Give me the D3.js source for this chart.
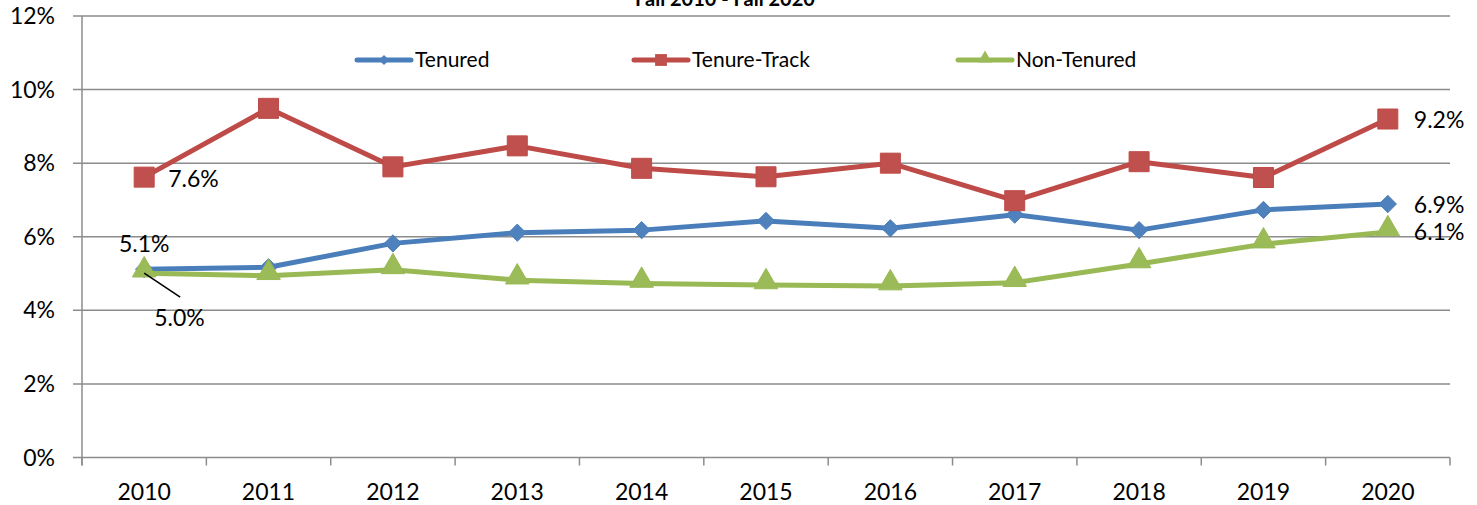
<!doctype html>
<meta charset="utf-8">
<script src="https://cdnjs.cloudflare.com/ajax/libs/d3/7.8.5/d3.min.js"></script>
<style>
  body {margin: 0; background: #fff;}
  svg text {font-family: Lato, "Open Sans", sans-serif; fill: #000;}
</style>
<body>
<svg width="1477" height="505"></svg>
<script>
const years = ["2010","2011","2012","2013","2014","2015","2016","2017","2018","2019","2020"];
const tenured     = [5.12, 5.17, 5.82, 6.11, 6.18, 6.43, 6.23, 6.60, 6.18, 6.73, 6.89];
const tenureTrack = [7.62, 9.49, 7.90, 8.47, 7.86, 7.63, 8.00, 6.98, 8.04, 7.61, 9.20];
const nonTenured  = [5.01, 4.94, 5.10, 4.82, 4.73, 4.69, 4.66, 4.75, 5.26, 5.80, 6.13];
const yTicks = [0, 2, 4, 6, 8, 10, 12];
const seriesNames = ["Tenured", "Tenure-Track", "Non-Tenured"];
const title = "Fall 2010 - Fall 2020";

const svg = d3.select("svg");
const plotL = 82, plotR = 1450, plotT = 16, plotB = 457.5;

const x = d3.scaleBand().domain(years).range([plotL, plotR]);
const cx = d => x(d) + x.bandwidth() / 2;
const y = d3.scaleLinear().domain([0, 12]).range([plotB, plotT]);

// gridlines + y labels
svg.append("g").selectAll("line").data(yTicks).enter().append("line")
  .attr("x1", plotL - 9).attr("x2", plotR)
  .attr("y1", d => y(d)).attr("y2", d => y(d))
  .attr("stroke", "#8c8c8c").attr("stroke-width", 1.5);
svg.append("g").selectAll("text").data(yTicks).enter().append("text")
  .attr("x", 55).attr("y", d => y(d) + 8)
  .attr("text-anchor", "end").style("font-size", "23px")
  .text(d => d + "%");

// axes lines
svg.append("line").attr("x1", plotL).attr("x2", plotL).attr("y1", plotT).attr("y2", plotB + 8)
  .attr("stroke", "#8c8c8c").attr("stroke-width", 1.5);
const tickXs = years.map(d => x(d)).concat([plotR]);
svg.append("g").selectAll("line").data(tickXs).enter().append("line")
  .attr("x1", d => d).attr("x2", d => d).attr("y1", plotB).attr("y2", plotB + 8)
  .attr("stroke", "#8c8c8c").attr("stroke-width", 1.5);
svg.append("g").selectAll("text").data(years).enter().append("text")
  .attr("x", cx).attr("y", 500).attr("text-anchor", "middle")
  .style("font-size", "23px").text(d => d);

// title (clipped at top, as in the original)
svg.append("text").attr("x", 725).attr("y", 6).attr("text-anchor", "middle")
  .style("font-size", "20px").style("font-weight", "bold").text(title);

const colors = ["#4a7ebb", "#be4b48", "#98b954"];
const fills  = ["#4f81bd", "#c0504d", "#9bbb59"];
const allSeries = [tenured, tenureTrack, nonTenured];
const symbols = [d3.symbolDiamond2, d3.symbolSquare, d3.symbolTriangle];
const symSize = [190, 400, 240];
const symDy = [0, 0, -3];

const line = d3.line().x((v, i) => cx(years[i])).y(v => y(v));

allSeries.forEach((vals, s) => {
  svg.append("path").datum(vals).attr("d", line)
    .attr("fill", "none").attr("stroke", colors[s]).attr("stroke-width", 5)
    .attr("stroke-linejoin", "round");
});
allSeries.forEach((vals, s) => {
  svg.append("g").selectAll("path").data(vals).enter().append("path")
    .attr("d", d3.symbol().type(symbols[s]).size(symSize[s]))
    .attr("transform", (v, i) => `translate(${cx(years[i])},${y(v) + symDy[s]})`)
    .attr("fill", fills[s]).attr("stroke", colors[s]).attr("stroke-width", 1);
});

// legend
const legX = [357, 634, 958];
seriesNames.forEach((name, s) => {
  const g = svg.append("g").attr("transform", `translate(${legX[s]},60)`);
  g.append("line").attr("x1", 0).attr("x2", 54).attr("y1", 0).attr("y2", 0)
    .attr("stroke", colors[s]).attr("stroke-width", 5).attr("stroke-linecap", "round");
  g.append("path").attr("d", d3.symbol().type(symbols[s]).size(symSize[s] * 0.35))
    .attr("transform", `translate(27,${symDy[s] / 2})`)
    .attr("fill", fills[s]);
  g.append("text").attr("x", 58).attr("y", 7).style("font-size", "21px").text(name);
});

// data labels
const fmt = v => v.toFixed(1) + "%";
const last = years.length - 1;
const lbl = (xx, yy) => svg.append("text").attr("x", xx).attr("y", yy).style("font-size", "23px");
lbl(cx(years[0]) + 24, y(tenureTrack[0]) + 10).text(fmt(tenureTrack[0]));
lbl(cx(years[0]), y(tenured[0]) - 17).attr("text-anchor", "middle").text(fmt(tenured[0]));
svg.append("line").attr("x1", cx(years[0])).attr("y1", y(nonTenured[0]))
  .attr("x2", cx(years[0]) + 36).attr("y2", y(nonTenured[0]) + 24)
  .attr("stroke", "#000").attr("stroke-width", 1.5);
lbl(cx(years[0]) + 10, y(nonTenured[0]) + 53).text(fmt(nonTenured[0]));
lbl(cx(years[last]) + 26, y(tenureTrack[last]) + 9).text(fmt(tenureTrack[last]));
lbl(cx(years[last]) + 26, y(tenured[last]) + 9).text(fmt(tenured[last]));
lbl(cx(years[last]) + 26, y(nonTenured[last]) + 8).text(fmt(nonTenured[last]));
</script>
</body>
